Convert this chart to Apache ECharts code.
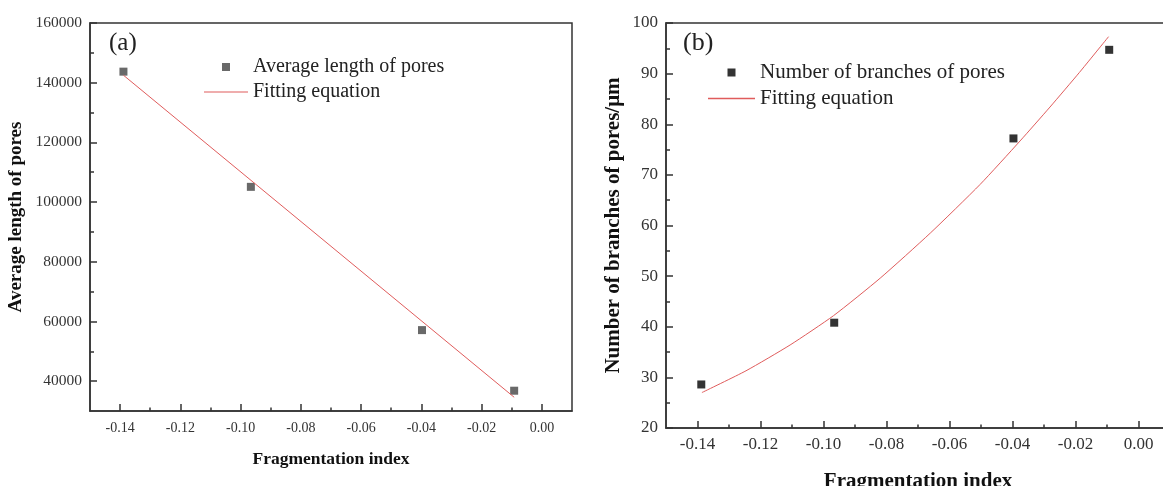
<!DOCTYPE html>
<html>
<head>
<meta charset="utf-8">
<script src="https://cdn.jsdelivr.net/npm/echarts@6/dist/echarts.min.js"></script>
<style>
  html, body { margin: 0; padding: 0; background: #fff; }
  #chart { width: 1163px; height: 486px; }
</style>
</head>
<body>
<div id="chart"></div>
<script>
// (a) average length of pores
var fragA = [-0.1389, -0.0966, -0.0398, -0.0092];
var lengthA = [143700, 105100, 57100, 36800];
var fitAx = [-0.1389, -0.0092];
var fitAy = [142500, 34600];

// (b) number of branches of pores
var fragB = [-0.1388, -0.0966, -0.0397, -0.0093];
var branchB = [28.6, 40.8, 77.2, 94.7];
var fitBx = [-0.1386, -0.1246, -0.1106, -0.0968, -0.082, -0.0661, -0.0503, -0.0376, -0.0281, -0.0188, -0.0095];
var fitBy = [27.0, 31.3, 36.4, 42.2, 49.6, 58.5, 68.1, 76.7, 83.4, 90.2, 97.3];

// tick labels
var xMajor = [-0.14, -0.12, -0.10, -0.08, -0.06, -0.04, -0.02, 0.00];
var xMinor = [-0.13, -0.11, -0.09, -0.07, -0.05, -0.03, -0.01];
var yMajorA = [40000, 60000, 80000, 100000, 120000, 140000, 160000];
var yMinorA = [50000, 70000, 90000, 110000, 130000, 150000];
var yMajorB = [20, 30, 40, 50, 60, 70, 80, 90, 100];
var yMinorB = [25, 35, 45, 55, 65, 75, 85, 95];

var serif = 'Liberation Serif';
var axisCol = '#333';
var fitCol = '#e05c5c';
var squareIcon = 'path://M0,0L10,0L10,10L0,10Z';
var lineIcon = 'path://M0,0L44,0L44,1.2L0,1.2Z';

function pairs(xs, ys) {
    return xs.map(function (x, i) { return [x, ys[i]]; });
}

function majorX(grid, labelSize, margin, nameSize, nameGap) {
    return {
        gridIndex: grid, type: 'value', min: -0.15, max: 0.01, position: 'bottom',
        name: 'Fragmentation index', nameLocation: 'middle', nameGap: nameGap,
        nameTextStyle: { fontFamily: serif, fontWeight: 'bold', fontSize: nameSize, color: '#111' },
        axisLine: { show: true, onZero: false, lineStyle: { color: axisCol, width: 1.5 } },
        axisTick: { show: true, inside: true, length: 7, customValues: xMajor, lineStyle: { color: axisCol, width: 1.5 } },
        axisLabel: { customValues: xMajor, margin: margin, fontFamily: serif, fontSize: labelSize, color: '#333',
            formatter: function (v) { return v.toFixed(2); } },
        splitLine: { show: false }
    };
}
function minorX(grid) {
    return {
        gridIndex: grid, type: 'value', min: -0.15, max: 0.01, position: 'bottom',
        axisLine: { show: false, onZero: false },
        axisTick: { show: true, inside: true, length: 3.5, customValues: xMinor, lineStyle: { color: axisCol, width: 1.5 } },
        axisLabel: { show: false }, splitLine: { show: false }
    };
}
function majorY(grid, min, max, ticks, labelSize, name, nameSize, nameGap) {
    return {
        gridIndex: grid, type: 'value', min: min, max: max, position: 'left',
        name: name, nameLocation: 'middle', nameGap: nameGap,
        nameTextStyle: { fontFamily: serif, fontWeight: 'bold', fontSize: nameSize, color: '#111' },
        axisLine: { show: true, onZero: false, lineStyle: { color: axisCol, width: 1.5 } },
        axisTick: { show: true, inside: true, length: 7, customValues: ticks, lineStyle: { color: axisCol, width: 1.5 } },
        axisLabel: { customValues: ticks, margin: 8, fontFamily: serif, fontSize: labelSize, color: '#333',
            formatter: function (v) { return String(v); } },
        splitLine: { show: false }
    };
}
function minorY(grid, min, max, ticks) {
    return {
        gridIndex: grid, type: 'value', min: min, max: max, position: 'left',
        axisLine: { show: false, onZero: false },
        axisTick: { show: true, inside: true, length: 4, customValues: ticks, lineStyle: { color: axisCol, width: 1.5 } },
        axisLabel: { show: false }, splitLine: { show: false }
    };
}

var chart = echarts.init(document.getElementById('chart'), null, { renderer: 'canvas' });
chart.setOption({
    animation: false,
    backgroundColor: '#fff',
    title: [
        { text: '(a)', left: 109, top: 31, padding: 0, textStyle: { fontFamily: serif, fontWeight: 'normal', fontSize: 25, color: '#222' } },
        { text: '(b)', left: 683, top: 30, padding: 0, textStyle: { fontFamily: serif, fontWeight: 'normal', fontSize: 26, color: '#222' } }
    ],
    legend: [
        {
            left: 204, top: 57, orient: 'vertical', padding: 0, itemWidth: 44, itemHeight: 8, itemGap: 5,
            textStyle: { fontFamily: serif, fontSize: 20, color: '#222' },
            data: [{ name: 'Average length of pores', icon: squareIcon }, { name: 'Fitting equation', icon: lineIcon }]
        },
        {
            left: 708, top: 62, orient: 'vertical', padding: 0, itemWidth: 47, itemHeight: 8, itemGap: 5,
            textStyle: { fontFamily: serif, fontSize: 21, color: '#222' },
            data: [{ name: 'Number of branches of pores', icon: squareIcon }, { name: 'Fitting equation', icon: lineIcon }]
        }
    ],
    grid: [
        { left: 90, top: 23, width: 482, height: 388, show: true, borderColor: axisCol, borderWidth: 1.5, outerBoundsMode: 'none', containLabel: false },
        { left: 666, top: 23, width: 504, height: 405, show: true, borderColor: axisCol, borderWidth: 1.5, outerBoundsMode: 'none', containLabel: false }
    ],
    xAxis: [
        majorX(0, 14, 10, 17.5, 39),
        minorX(0),
        majorX(1, 17, 8, 21, 43),
        minorX(1)
    ],
    yAxis: [
        majorY(0, 30000, 160000, yMajorA, 15.5, 'Average length of pores', 19, 64),
        minorY(0, 30000, 160000, yMinorA),
        majorY(1, 20, 100, yMajorB, 17, 'Number of branches of pores/\u03bcm', 21, 42),
        minorY(1, 20, 100, yMinorB)
    ],
    series: [
        {
            name: 'Average length of pores', type: 'scatter', xAxisIndex: 0, yAxisIndex: 0,
            symbol: 'rect', symbolSize: 8, itemStyle: { color: '#444' },
            data: pairs(fragA, lengthA)
        },
        {
            name: 'Fitting equation', type: 'line', xAxisIndex: 0, yAxisIndex: 0,
            symbol: 'none', lineStyle: { color: fitCol, width: 1 }, itemStyle: { color: fitCol },
            data: pairs(fitAx, fitAy)
        },
        {
            name: 'Number of branches of pores', type: 'scatter', xAxisIndex: 2, yAxisIndex: 2,
            symbol: 'rect', symbolSize: 8, itemStyle: { color: '#000' },
            data: pairs(fragB, branchB)
        },
        {
            name: 'Fitting equation', type: 'line', xAxisIndex: 2, yAxisIndex: 2,
            symbol: 'none', smooth: 0.2, lineStyle: { color: fitCol, width: 1 }, itemStyle: { color: fitCol },
            data: pairs(fitBx, fitBy)
        }
    ]
});
</script>
</body>
</html>
